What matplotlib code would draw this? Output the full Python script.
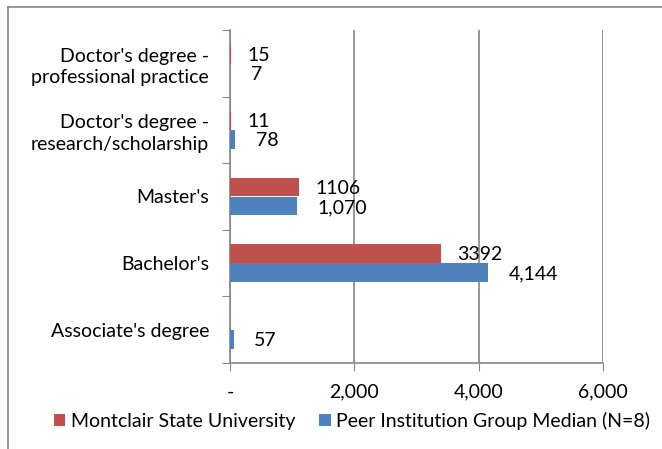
import numpy as np
import matplotlib.pyplot as plt
from matplotlib.lines import Line2D

categories = ["Associate's degree", "Bachelor's", "Master's",
              "Doctor's degree -\nresearch/scholarship",
              "Doctor's degree -\nprofessional practice"]
montclair = [np.nan, 3392, 1106, 11, 15]
peer = [57, 4144, 1070, 78, 7]
montclair_labels = ["", "3392", "1106", "11", "15"]
peer_labels = ["57", "4,144", "1,070", "78", "7"]
xticks = [0, 2000, 4000, 6000]
xtick_labels = ["-", "2,000", "4,000", "6,000"]

red = '#C0504D'
blue = '#4F81BD'
grey = '#868686'
plt.rcParams['font.family'] = ['Lato', 'DejaVu Sans']
fs = 14

fig = plt.figure(figsize=(6.62, 4.49), dpi=100)
ax = fig.add_axes([230/662, 1 - 363/449, 373/662, 333/449])

y = np.arange(len(categories))
h = 0.285
ax.barh(y + h/2, np.nan_to_num(montclair), height=h, color=red, label='Montclair State University', zorder=3)
ax.barh(y - h/2, peer, height=h, color=blue, label='Peer Institution Group Median (N=8)', zorder=3)

for i in range(len(categories)):
    if montclair_labels[i]:
        ax.annotate(montclair_labels[i], (montclair[i], y[i] + h/2), xytext=(12, -1),
                    textcoords='offset points', va='center', ha='left', fontsize=fs)
    ax.annotate(peer_labels[i], (peer[i], y[i] - h/2), xytext=(15, -1),
                textcoords='offset points', va='center', ha='left', fontsize=fs)

ax.set_xlim(0, 6000)
ax.set_ylim(-0.5, len(categories) - 0.5)
ax.set_xticks(xticks)
ax.set_xticklabels(xtick_labels, fontsize=fs)
ax.set_yticks(np.arange(len(categories) + 1) - 0.5)
ax.set_yticklabels([])
ax.set_yticks(y, minor=True)
ax.set_yticklabels(categories, minor=True, fontsize=fs, ha='right',
                   multialignment='right', linespacing=1.3)
ax.tick_params(axis='y', which='minor', length=0, pad=15)
ax.tick_params(axis='y', which='major', length=6, color=grey, direction='out')
ax.tick_params(axis='x', length=6, color=grey, direction='out', pad=9)
ax.grid(axis='x', color=grey, linewidth=1.2, zorder=0)
for s in ['top', 'right']:
    ax.spines[s].set_visible(False)
for s in ['left', 'bottom']:
    ax.spines[s].set_color(grey)
    ax.spines[s].set_linewidth(1.2)

ax.legend(loc='center', bbox_to_anchor=(352/662, 1 - 421/449), bbox_transform=fig.transFigure,
          ncol=2, frameon=False, fontsize=fs, handlelength=0.6, handleheight=0.6,
          handletextpad=0.3, columnspacing=1.2)

# outer chart frame
fig.add_artist(Line2D([8/662, 1], [1 - 7/449, 1 - 7/449], color=grey, linewidth=1.2))
fig.add_artist(Line2D([8/662, 8/662], [0, 1 - 7/449], color=grey, linewidth=1.2))

plt.savefig('out.png', dpi=100)
